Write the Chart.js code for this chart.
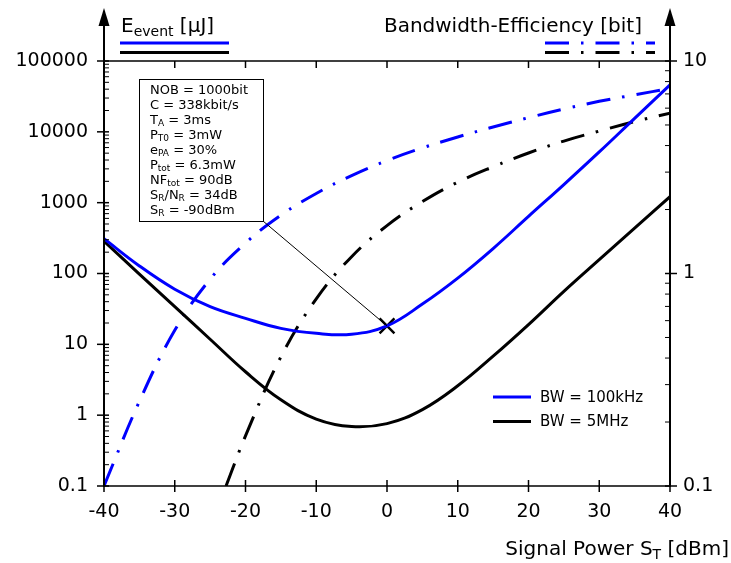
<!DOCTYPE html>
<html><head><meta charset="utf-8">
<script src="https://cdn.jsdelivr.net/npm/chart.js@4"></script>
<style>html,body{margin:0;padding:0;background:#fff}#wrap{width:731px;height:563px}canvas{display:block}</style>
</head><body><div id="wrap"><canvas id="c" width="731" height="563"></canvas></div>
<script>
// ---- data ----
const xValues = [-40,-35,-30,-25,-20,-15,-10,-5,0,5,10,15,20,25,30,35,40];
const energy100k = [310,128,60,34,23.3,16.8,14.3,13.9,18.2,37,86,225,640,1800,5200,15500,45900];
const energy5M = [285,98,34,11.8,4.1,1.65,0.88,0.69,0.76,1.2,2.6,6.8,19,56,157,436,1217];
const bwEff100k = [0.1,0.25,0.54,0.94,1.39,1.88,2.38,2.89,3.40,3.90,4.39,4.89,5.41,5.94,6.46,6.93,7.43];
const xValues5M = [-22.75,-20,-15,-10,-5,0,5,10,15,20,25,30,35,40];
const bwEff5M = [0.1,0.172,0.405,0.76,1.20,1.68,2.18,2.69,3.18,3.69,4.20,4.68,5.19,5.68];
const markerX = 0;
const markerY = 18.2;

const xTicks = [-40,-30,-20,-10,0,10,20,30,40];
const leftTicks = [0.1,1,10,100,1000,10000,100000];
const leftTickLabels = ['0.1','1','10','100','1000','10000','100000'];
const rightTicks = [0.1,1,10];
const rightTickLabels = ['0.1','1','10'];

const seriesNames = ['BW = 100kHz','BW = 5MHz'];
const leftTitle = [['E',false],['event',true],[' [μJ]',false]];
const rightTitle = [['Bandwidth-Efficiency [bit]',false]];
const xTitle = [['Signal Power S',false],['T',true],[' [dBm]',false]];
const annotationLines = [
  [['NOB = 1000bit',false]],
  [['C = 338kbit/s',false]],
  [['T',false],['A',true],[' = 3ms',false]],
  [['P',false],['T0',true],[' = 3mW',false]],
  [['e',false],['PA',true],[' = 30%',false]],
  [['P',false],['tot',true],[' = 6.3mW',false]],
  [['NF',false],['tot',true],[' = 90dB',false]],
  [['S',false],['R',true],['/N',false],['R',true],[' = 34dB',false]],
  [['S',false],['R',true],[' = -90dBm',false]]
];

const BLUE = '#0000ff', BLACK = '#000000';
const FONT = '"DejaVu Sans", Verdana, sans-serif';
const DASHDOT = [24,12,2.5,12];

function pts(xs, ys){ return xs.map((x,i)=>({x:x, y:ys[i]})); }

function rich(ctx, x, y, parts, size, align){
  const sub = Math.round(size*0.68);
  let w = 0;
  parts.forEach(([t,s])=>{ ctx.font = (s?sub:size)+'px '+FONT; w += ctx.measureText(t).width; });
  let cx = align==='right' ? x-w : x;
  ctx.textAlign='left'; ctx.textBaseline='alphabetic';
  parts.forEach(([t,s])=>{
    ctx.font = (s?sub:size)+'px '+FONT;
    ctx.fillText(t, cx, s ? y+size*0.22 : y);
    cx += ctx.measureText(t).width;
  });
}

const decor = {
  id:'decor',
  afterDatasetsDraw(chart){
    const ctx = chart.ctx;
    const {left,right,top,bottom} = chart.chartArea;
    const sx = chart.scales.x, sy = chart.scales.y, sy2 = chart.scales.y2;
    const L = (a,b,c,d)=>{ctx.beginPath();ctx.moveTo(a,b);ctx.lineTo(c,d);ctx.stroke();};
    ctx.save();
    ctx.strokeStyle=BLACK; ctx.fillStyle=BLACK; ctx.setLineDash([]); ctx.lineCap='butt';

    // annotation box + leader line
    const bx = left+35, by = top+18, bw = 124, bh = 142;
    const mx = sx.getPixelForValue(markerX), my = sy.getPixelForValue(markerY);
    ctx.lineWidth = 1;
    L(bx+bw, by+bh, mx, my);
    ctx.fillStyle='#fff'; ctx.fillRect(bx,by,bw,bh);
    ctx.strokeRect(bx+0.5,by+0.5,bw,bh);
    ctx.fillStyle=BLACK;
    annotationLines.forEach((ln,i)=>rich(ctx, bx+11, by+14.5+15*i, ln, 13, 'left'));

    // frame
    ctx.lineWidth = 2;
    L(left, bottom+1, left, 24);
    L(right, bottom+1, right, 24);
    ctx.lineWidth = 1.5;
    L(left, top, right, top);
    L(left, bottom, right, bottom);
    // arrows
    [left,right].forEach(ax=>{
      ctx.beginPath(); ctx.moveTo(ax-5.5,26); ctx.lineTo(ax,8); ctx.lineTo(ax+5.5,26); ctx.closePath(); ctx.fill();
    });
    // x ticks
    ctx.lineWidth = 1.5;
    xTicks.forEach(v=>{
      const px = sx.getPixelForValue(v);
      L(px, bottom-6, px, bottom+6);
      L(px, top, px, top+7);
    });
    // y ticks (left)
    leftTicks.forEach(v=>{ const py = sy.getPixelForValue(v); L(left-7, py, left+5, py); });
    for (let d=0.1; d<100000; d*=10){
      for (let m=2;m<=9;m++){ const py = sy.getPixelForValue(m*d); ctx.lineWidth=1; L(left, py, left+5, py); }
    }
    ctx.lineWidth = 1.5;
    rightTicks.forEach(v=>{ const py = sy2.getPixelForValue(v); L(right-5, py, right+7, py); });
    for (let d=0.1; d<10; d*=10){
      for (let m=2;m<=9;m++){ const py = sy2.getPixelForValue(m*d); ctx.lineWidth=1; L(right-5, py, right, py); }
    }

    // titles / legends at top
    ctx.fillStyle = BLACK;
    rich(ctx, left+17, 32, leftTitle, 20, 'left');
    rich(ctx, right-28, 32, rightTitle, 20, 'right');
    ctx.lineWidth = 3;
    ctx.strokeStyle = BLUE; L(left+16, 43, left+125, 43);
    ctx.strokeStyle = BLACK; L(left+16, 52.5, left+125, 52.5);
    ctx.setLineDash(DASHDOT);
    ctx.strokeStyle = BLUE; L(right-125, 43, right-15, 43);
    ctx.strokeStyle = BLACK; L(right-125, 52.5, right-15, 52.5);
    ctx.setLineDash([]);

    // bottom-right legend
    const lx = 493, ly = 397;
    [BLUE,BLACK].forEach((c,i)=>{
      ctx.strokeStyle = c; ctx.lineWidth = 3;
      L(lx, ly+24.5*i, lx+38, ly+24.5*i);
      ctx.fillStyle = BLACK; ctx.font = '15px '+FONT; ctx.textAlign='left'; ctx.textBaseline='middle';
      ctx.fillText(seriesNames[i], lx+47, ly+24.5*i+1);
    });

    // x axis title
    ctx.fillStyle = BLACK;
    rich(ctx, 729, 555, xTitle, 20, 'right');
    ctx.restore();
  }
};

const tickFont = {family: 'DejaVu Sans', size: 19};
const lineBase = {borderWidth:3, pointRadius:0, tension:0.4, fill:false};
new Chart(document.getElementById('c').getContext('2d'), {
  type:'line',
  data:{datasets:[
    Object.assign({data: pts(xValues, energy100k), yAxisID:'y', borderColor:BLUE}, lineBase),
    Object.assign({data: pts(xValues, energy5M), yAxisID:'y', borderColor:BLACK}, lineBase),
    Object.assign({data: pts(xValues, bwEff100k), yAxisID:'y2', borderColor:BLUE, borderDash:DASHDOT}, lineBase),
    Object.assign({data: pts(xValues5M, bwEff5M), yAxisID:'y2', borderColor:BLACK, borderDash:DASHDOT}, lineBase),
    {data: [{x:markerX, y:markerY}], yAxisID:'y', showLine:false, pointStyle:'crossRot', pointRadius:10.5, borderWidth:2.5, borderColor:BLACK, backgroundColor:BLACK}
  ]},
  options:{
    responsive:false, animation:false, devicePixelRatio:1,
    layout:{padding:{top:61,left:0,right:0,bottom:0}},
    plugins:{legend:{display:false}, tooltip:{enabled:false}},
    scales:{
      x:{type:'linear', min:-40, max:40,
        afterBuildTicks:s=>{s.ticks = xTicks.map(v=>({value:v}));},
        afterFit:s=>{s.height = 77;},
        ticks:{font:tickFont, color:BLACK, padding:15, autoSkip:false, maxRotation:0, callback:v=>String(v)},
        grid:{display:false, drawTicks:false}, border:{display:false}},
      y:{type:'logarithmic', position:'left', min:0.1, max:100000,
        afterBuildTicks:s=>{s.ticks = leftTicks.map(v=>({value:v}));},
        afterFit:s=>{s.width = 104;},
        ticks:{font:tickFont, color:BLACK, padding:16, callback:v=>leftTickLabels[leftTicks.indexOf(v)]},
        grid:{display:false, drawTicks:false}, border:{display:false}},
      y2:{type:'logarithmic', position:'right', min:0.1, max:10,
        afterBuildTicks:s=>{s.ticks = rightTicks.map(v=>({value:v}));},
        afterFit:s=>{s.width = 61;},
        ticks:{font:tickFont, color:BLACK, padding:13, callback:v=>rightTickLabels[rightTicks.indexOf(v)]},
        grid:{display:false, drawTicks:false}, border:{display:false}}
    }
  },
  plugins:[decor]
});
</script></body></html>
